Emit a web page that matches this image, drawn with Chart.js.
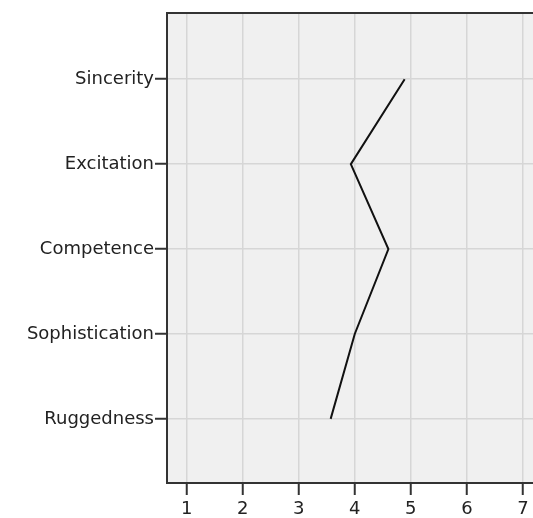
<!DOCTYPE html>
<html>
<head>
<meta charset="utf-8">
<script src="https://cdn.jsdelivr.net/npm/chart.js@4"></script>
<style>
  html, body { margin: 0; padding: 0; background: #ffffff; }
  #wrap { width: 533px; height: 518px; }
</style>
</head>
<body>
<div id="wrap"><canvas id="c" width="533" height="518"></canvas></div>
<script>
const categories = ["Sincerity", "Excitation", "Competence", "Sophistication", "Ruggedness"];
const meanValues = [4.89, 3.93, 4.60, 4.00, 3.57];
const xTickValues = [1, 2, 3, 4, 5, 6, 7];

const points = categories.map((c, i) => ({ x: meanValues[i], y: i }));

const bgPlugin = {
  id: 'plotBg',
  beforeDraw(chart) {
    const { ctx, chartArea } = chart;
    ctx.save();
    ctx.fillStyle = '#f0f0f0';
    ctx.fillRect(chartArea.left, chartArea.top, chartArea.right - chartArea.left, chartArea.bottom - chartArea.top);
    ctx.restore();
  }
};

const FONT = { family: "'DejaVu Sans', sans-serif", size: 18 };

new Chart(document.getElementById('c'), {
  type: 'line',
  data: {
    datasets: [{
      data: points,
      borderColor: '#111111',
      borderWidth: 2,
      pointRadius: 0,
      fill: false,
      tension: 0
    }]
  },
  plugins: [bgPlugin],
  options: {
    responsive: false,
    animation: false,
    layout: { padding: 0 },
    plugins: { legend: { display: false }, tooltip: { enabled: false } },
    scales: {
      x: {
        type: 'linear',
        position: 'bottom',
        min: 0.65,
        max: 7.18,
        afterBuildTicks(s) { s.ticks = xTickValues.map(v => ({ value: v })); },
        afterFit(s) { s.height = 35; },
        grid: { color: '#d6d6d6', lineWidth: 1.5, tickColor: '#333333', tickWidth: 2, tickLength: 12 },
        border: { display: true, color: '#333333', width: 2 },
        ticks: { color: '#222222', font: FONT, padding: 4, maxRotation: 0, autoSkip: false }
      },
      x2: {
        type: 'linear',
        position: 'top',
        min: 0.65,
        max: 7.18,
        afterFit(s) { s.height = 13; },
        grid: { display: false },
        border: { display: true, color: '#333333', width: 2 },
        ticks: { display: false }
      },
      y: {
        type: 'linear',
        reverse: true,
        min: -0.78,
        max: 4.755,
        afterBuildTicks(s) { s.ticks = categories.map((c, i) => ({ value: i })); },
        afterFit(s) { s.width = 167; },
        grid: { color: '#d6d6d6', lineWidth: 1.5, tickColor: '#333333', tickWidth: 2, tickLength: 12 },
        border: { display: true, color: '#333333', width: 2 },
        ticks: {
          color: '#222222', font: FONT, padding: 1, autoSkip: false,
          callback: (v) => categories[v] ?? ''
        }
      }
    }
  }
});
</script>
</body>
</html>
